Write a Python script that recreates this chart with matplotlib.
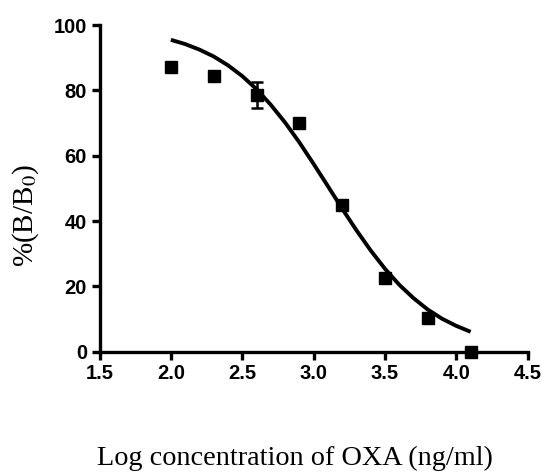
import numpy as np
import matplotlib
matplotlib.use("Agg")
import matplotlib.pyplot as plt
from matplotlib import font_manager

# measured points (log conc, %B/B0)
logConc = [2.0, 2.3, 2.6, 2.9, 3.2, 3.5, 3.8, 4.1]
pctB = [87.3, 84.4, 78.6, 69.9, 45.0, 22.5, 10.3, 0.0]
pctErr = [0.0, 0.0, 3.9, 0.0, 0.0, 0.0, 0.0, 0.0]

# fitted curve
curveX = [2.0, 2.1, 2.2, 2.3, 2.4, 2.5, 2.6, 2.7, 2.8, 2.9, 3.0,
          3.1, 3.2, 3.3, 3.4, 3.5, 3.6, 3.7, 3.8, 3.9, 4.0, 4.1]
curveY = [95.5, 94.2, 92.5, 90.4, 87.7, 84.4, 80.4, 75.6, 70.2, 64.1, 57.5,
          50.7, 43.8, 37.2, 31.0, 25.4, 20.5, 16.4, 12.9, 10.1, 7.9, 6.1]

xTicks = [1.5, 2.0, 2.5, 3.0, 3.5, 4.0, 4.5]
yTicks = [0, 20, 40, 60, 80, 100]

names = {f.name for f in font_manager.fontManager.ttflist}
tickFont = "Liberation Sans Narrow" if "Liberation Sans Narrow" in names else "Liberation Sans"
plt.rcParams["mathtext.fontset"] = "stix"

fig = plt.figure(figsize=(5.42, 4.74), dpi=100)
ax = fig.add_axes([0.1836, 0.258, 0.79, 0.689])

ax.plot(curveX, curveY, color="black", lw=2.8, solid_capstyle="butt")
ax.errorbar(logConc, pctB, yerr=pctErr, fmt="s", color="black", ms=9,
            ecolor="black", elinewidth=1.8, capsize=4.5, capthick=1.8, clip_on=False)

ax.set_xlim(1.5, 4.5)
ax.set_ylim(0, 100)
ax.set_xticks(xTicks)
ax.set_xticklabels([f"{t:.1f}" for t in xTicks])
ax.set_yticks(yTicks)

for s in ("top", "right"):
    ax.spines[s].set_visible(False)
for s in ("left", "bottom"):
    ax.spines[s].set_linewidth(2.4)

ax.tick_params(direction="out", length=6, width=2.4, pad=3)
for lab in ax.get_xticklabels() + ax.get_yticklabels():
    lab.set_fontfamily(tickFont)
    lab.set_fontweight("bold")
    lab.set_fontsize(14.5)

fig.text(0.545, 0.018, "Log concentration of OXA (ng/ml)", ha="center", va="baseline",
         family="Liberation Serif", fontsize=20.3)
fig.text(0.048, 0.545, r"%(B/B$_{0}$)", ha="center", va="center", rotation=90,
         family="Liberation Serif", fontsize=21)

fig.savefig("out.png", dpi=100)
